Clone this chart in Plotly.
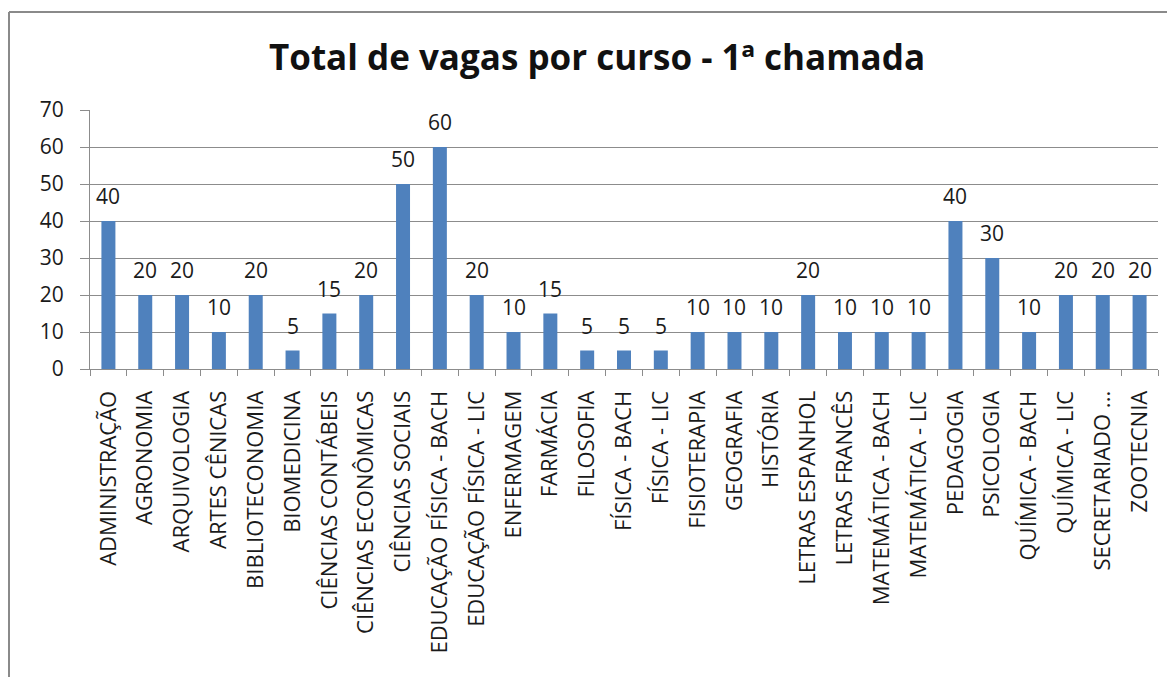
import plotly.graph_objects as go

cursos = ["ADMINISTRAÇÃO", "AGRONOMIA", "ARQUIVOLOGIA", "ARTES CÊNICAS", "BIBLIOTECONOMIA",
          "BIOMEDICINA", "CIÊNCIAS CONTÁBEIS", "CIÊNCIAS ECONÔMICAS", "CIÊNCIAS SOCIAIS",
          "EDUCAÇÃO FÍSICA - BACH", "EDUCAÇÃO FÍSICA - LIC", "ENFERMAGEM", "FARMÁCIA",
          "FILOSOFIA", "FÍSICA - BACH", "FÍSICA - LIC", "FISIOTERAPIA", "GEOGRAFIA",
          "HISTÓRIA", "LETRAS ESPANHOL", "LETRAS FRANCÊS", "MATEMÁTICA - BACH",
          "MATEMÁTICA - LIC", "PEDAGOGIA", "PSICOLOGIA", "QUÍMICA - BACH", "QUÍMICA - LIC",
          "SECRETARIADO ...", "ZOOTECNIA"]
vagas = [40, 20, 20, 10, 20, 5, 15, 20, 50, 60, 20, 10, 15, 5, 5, 5, 10, 10, 10, 20,
         10, 10, 10, 40, 30, 10, 20, 20, 20]
y_ticks = [0, 10, 20, 30, 40, 50, 60, 70]

FONT = "Open Sans, Lato, sans-serif"
GRID = "#8c8c8c"
TXT = "#1a1a1a"

fig = go.Figure(go.Bar(
    x=cursos, y=vagas, marker_color="#4F81BD", marker_line_width=0,
))

# value labels above each bar
for c, v in zip(cursos, vagas):
    fig.add_annotation(x=c, y=v, text=str(v), showarrow=False, yanchor="middle",
                       yshift=25, font=dict(size=21, family=FONT, color=TXT))

# page body has an 8px margin: figure coords = screen coords - 8
W, H = 1167, 669
L, T = 82, 102
R = W - 1150
B = H - 361
pw, ph = W - L - R, H - T - B

fig.update_layout(
    width=W, height=H,
    margin=dict(l=L, r=R, t=T, b=B),
    paper_bgcolor="white", plot_bgcolor="white",
    bargap=0.62, showlegend=False,
    font=dict(family=FONT, color=TXT),
    title=dict(text="<b>Total de vagas por curso - 1ª chamada</b>", x=(597 - 8) / W, xanchor="center",
               y=1 - 50 / H, yanchor="middle",
               font=dict(size=35, family=FONT, color="#111111")),
    shapes=[
        dict(type="line", xref="paper", yref="paper",
             x0=(1 - L) / pw, x1=(1 - L) / pw, y0=-(B + 10) / ph, y1=1 + (T - 4) / ph,
             line=dict(color="#8a8a8a", width=2)),
        dict(type="line", xref="paper", yref="paper",
             x0=(1 - L) / pw, x1=(W + 10 - L) / pw, y0=1 + (T - 4) / ph, y1=1 + (T - 4) / ph,
             line=dict(color="#8a8a8a", width=2)),
    ],
)
fig.update_xaxes(
    tickangle=-90, tickfont=dict(size=22, family=FONT, color=TXT),
    showline=True, linecolor=GRID, linewidth=1,
    ticks="outside", tickson="boundaries", ticklen=6, tickcolor=GRID,
    ticklabelstandoff=12, showgrid=False,
)
fig.update_yaxes(
    range=[0, 70], tickvals=y_ticks, tickfont=dict(size=21, family=FONT, color=TXT),
    showgrid=True, gridcolor=GRID, gridwidth=1,
    showline=True, linecolor=GRID, linewidth=1,
    ticks="outside", ticklen=9, tickcolor=GRID, zeroline=False,
    ticklabelstandoff=12,
)
fig.write_html("out.html")
